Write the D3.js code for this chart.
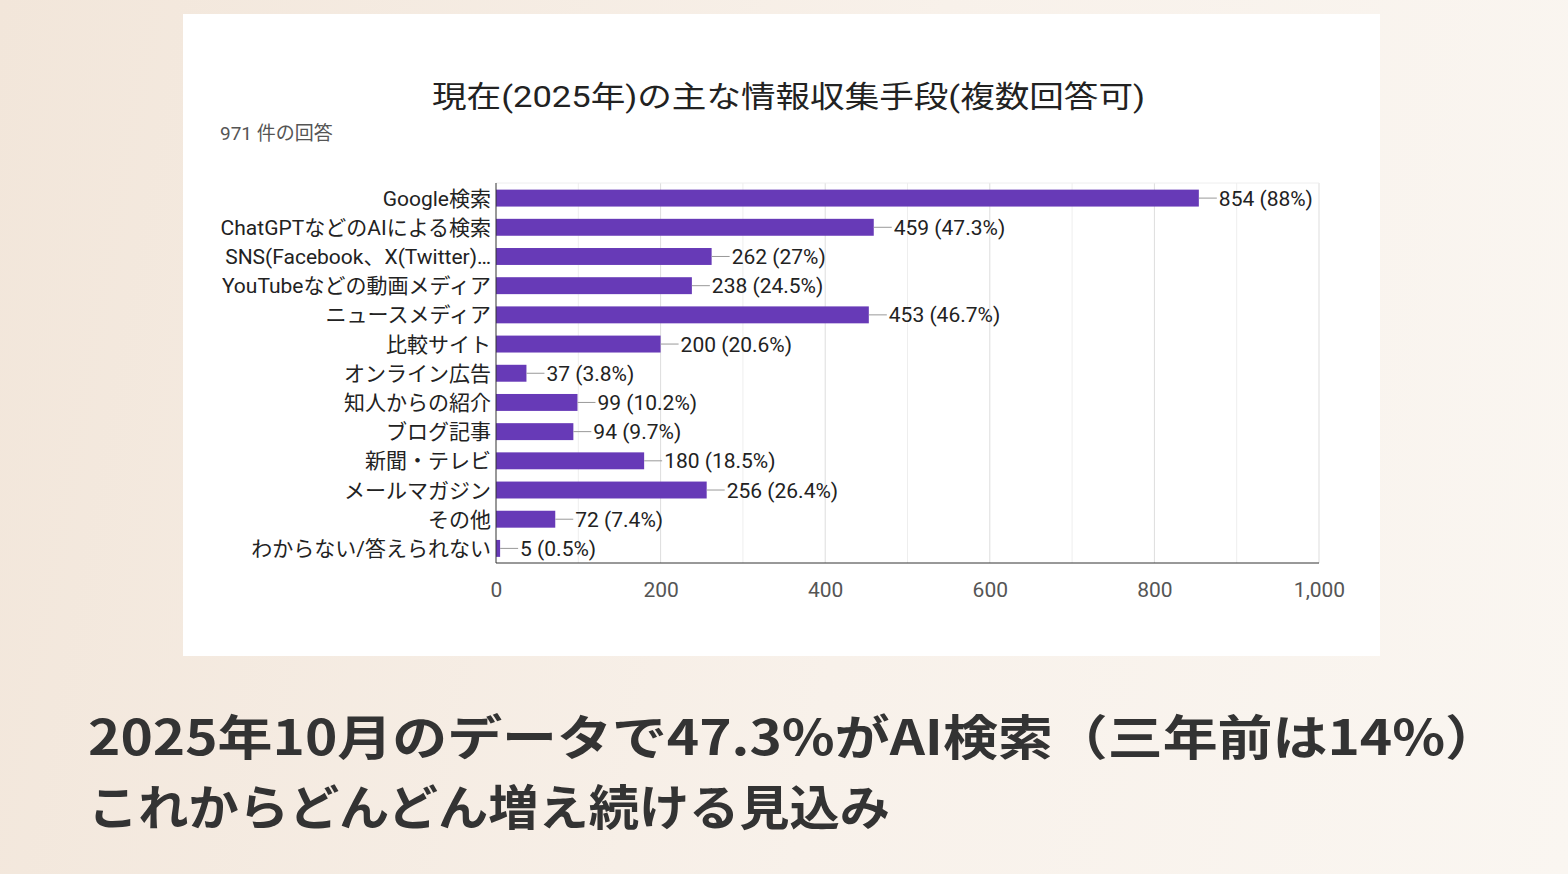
<!DOCTYPE html>
<html><head><meta charset="utf-8">
<script src="https://cdn.jsdelivr.net/npm/d3@7"></script>
<style>
body{margin:0;width:1568px;height:874px;overflow:hidden;background:linear-gradient(100deg,#f2e6da 0%,#f8f1ea 55%,#faf6f1 100%);font-family:Roboto,"Noto Sans CJK JP","Noto Sans",sans-serif;}
</style></head><body>
<div id="chart"></div>
<script>
const data = [
  {label: 'Google検索', value: 854, pct: '88%'},
  {label: 'ChatGPTなどのAIによる検索', value: 459, pct: '47.3%'},
  {label: 'SNS(Facebook、X(Twitter)…', value: 262, pct: '27%'},
  {label: 'YouTubeなどの動画メディア', value: 238, pct: '24.5%'},
  {label: 'ニュースメディア', value: 453, pct: '46.7%'},
  {label: '比較サイト', value: 200, pct: '20.6%'},
  {label: 'オンライン広告', value: 37, pct: '3.8%'},
  {label: '知人からの紹介', value: 99, pct: '10.2%'},
  {label: 'ブログ記事', value: 94, pct: '9.7%'},
  {label: '新聞・テレビ', value: 180, pct: '18.5%'},
  {label: 'メールマガジン', value: 256, pct: '26.4%'},
  {label: 'その他', value: 72, pct: '7.4%'},
  {label: 'わからない/答えられない', value: 5, pct: '0.5%'}
];

const svg = d3.select('#chart').append('svg').attr('width', 1568).attr('height', 874);

svg.append('rect').attr('x', 183).attr('y', 14).attr('width', 1197).attr('height', 642).attr('fill', '#fff');

svg.append('text').attr('x', 432).attr('y', 107)
  .attr('font-size', 30).attr('fill', '#222').attr('textLength', 713).attr('lengthAdjust', 'spacingAndGlyphs')
  .text('現在(2025年)の主な情報収集手段(複数回答可)');
svg.append('text').attr('x', 220).attr('y', 140)
  .attr('font-size', 19).attr('fill', '#555').text('971 件の回答');

const x = d3.scaleLinear().domain([0, 1000]).range([496, 1319]);
const y = d3.scaleBand().domain(data.map(d => d.label)).range([183.5, 563]).paddingInner(0.42).paddingOuter(0.21);

const g = svg.append('g');
// grid every 100
g.selectAll('line.grid').data(d3.range(100, 1001, 100)).join('line')
  .attr('x1', d => x(d)).attr('x2', d => x(d)).attr('y1', 183).attr('y2', 563)
  .attr('stroke', d => d % 200 === 0 ? '#ddd' : '#eee').attr('stroke-width', 1);
g.append('line').attr('x1', x(0)).attr('x2', x(1000)).attr('y1', 183).attr('y2', 183).attr('stroke', '#eee');

g.selectAll('rect.bar').data(data).join('rect')
  .attr('x', x(0)).attr('y', d => y(d.label))
  .attr('width', d => x(d.value) - x(0)).attr('height', y.bandwidth())
  .attr('fill', '#673ab7');

g.selectAll('line.lead').data(data).join('line')
  .attr('x1', d => x(d.value)).attr('x2', d => x(d.value) + 18)
  .attr('y1', d => y(d.label) + y.bandwidth() / 2).attr('y2', d => y(d.label) + y.bandwidth() / 2)
  .attr('stroke', '#999');

g.selectAll('text.val').data(data).join('text')
  .attr('x', d => x(d.value) + 20).attr('y', d => y(d.label) + y.bandwidth() / 2)
  .attr('dy', '0.36em').attr('font-size', 21).attr('fill', '#222')
  .text(d => `${d.value} (${d.pct})`);

g.selectAll('text.lab').data(data).join('text')
  .attr('x', 491).attr('y', d => y(d.label) + y.bandwidth() / 2)
  .attr('dy', '0.36em').attr('text-anchor', 'end').attr('font-size', 21).attr('fill', '#222')
  .text(d => d.label);

g.append('line').attr('x1', x(0)).attr('x2', x(1000)).attr('y1', 563).attr('y2', 563).attr('stroke', '#333');
g.append('line').attr('x1', x(0)).attr('x2', x(0)).attr('y1', 183).attr('y2', 563).attr('stroke', '#333');

const axis = svg.append('g').attr('transform', 'translate(0,563)')
  .call(d3.axisBottom(x).tickValues(d3.range(0, 1001, 200)).tickSize(0).tickPadding(19).tickFormat(d3.format(',')));
axis.select('.domain').remove();
axis.selectAll('text').attr('font-size', 21).attr('fill', '#555').attr('font-family', 'Roboto,sans-serif');

svg.append('text').attr('x', 88).attr('y', 755).attr('font-size', 48).attr('font-weight', 700)
  .attr('font-family', '"Noto Sans CJK JP",sans-serif')
  .attr('textLength', 1412).attr('lengthAdjust', 'spacingAndGlyphs')
  .attr('fill', '#333').text('2025年10月のデータで47.3%がAI検索（三年前は14%）');
svg.append('text').attr('x', 88).attr('y', 825).attr('font-size', 48).attr('font-weight', 700)
  .attr('font-family', '"Noto Sans CJK JP",sans-serif')
  .attr('textLength', 802).attr('lengthAdjust', 'spacingAndGlyphs')
  .attr('fill', '#333').text('これからどんどん増え続ける見込み');
</script>
</body></html>
